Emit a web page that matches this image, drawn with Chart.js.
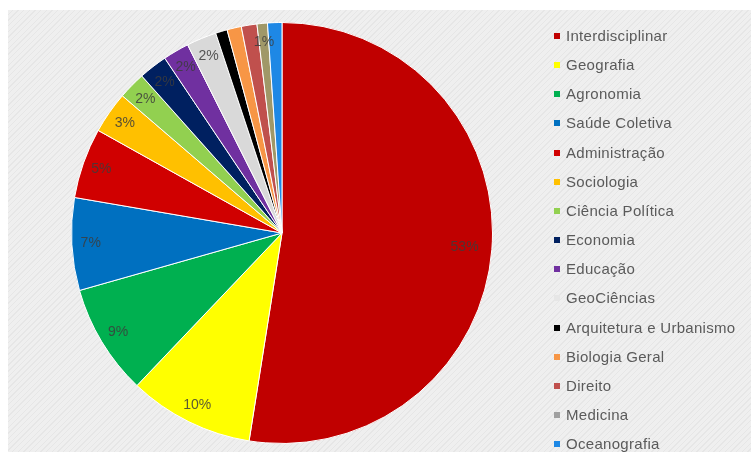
<!DOCTYPE html>
<html>
<head>
<meta charset="utf-8">
<script src="https://cdn.jsdelivr.net/npm/chart.js@4/dist/chart.umd.min.js"></script>
<style>
  html, body { margin: 0; padding: 0; background: #fff; }
  #wrap { position: relative; width: 751px; height: 452px; overflow: hidden; }
  #panel {
    position: absolute; left: 8px; top: 10px; width: 743px; height: 442px;
    background: repeating-linear-gradient(135deg, #efefef 0px, #efefef 3px, #e6e6e6 3px, #e6e6e6 4px);
  }
  #chart { position: absolute; left: 0; top: 0; }
  #legend { position: absolute; left: 554px; top: 0; font: 15px "Liberation Sans", Arial, sans-serif; letter-spacing: 0.3px; color: #5a5a5a; }
  .item { position: absolute; left: 0; white-space: nowrap; line-height: 16px; }
  .box { display: inline-block; width: 6px; height: 6px; margin-right: 6px; vertical-align: 2px; }
</style>
</head>
<body>
<div id="wrap">
  <div id="panel"></div>
  <canvas id="chart" width="751" height="452"></canvas>
  <div id="legend"></div>
</div>
<script>
const areas = ['Interdisciplinar', 'Geografia', 'Agronomia', 'Saúde Coletiva', 'Administração',
  'Sociologia', 'Ciência Política', 'Economia', 'Educação', 'GeoCiências',
  'Arquitetura e Urbanismo', 'Biologia Geral', 'Direito', 'Medicina', 'Oceanografia'];
const shares = [52.5, 9.6, 8.5, 7.1, 5.4, 3.2, 2.1, 2.2, 2.0, 2.3, 0.9, 1.1, 1.2, 0.8, 1.1];
const shareLabels = ['53%', '10%', '9%', '7%', '5%', '3%', '2%', '2%', '2%', '2%', '', '', '', '1%', ''];
const sliceColors = ['#c00000', '#ffff00', '#00b050', '#0070c0', '#d00000',
  '#ffc000', '#92d050', '#002060', '#7030a0', '#d9d9d9',
  '#000000', '#f79646', '#c0504d', '#a09868', '#1e88e5'];
const legendColors = ['#c00000', '#ffff00', '#00b050', '#0070c0', '#d00000',
  '#ffc000', '#92d050', '#002060', '#7030a0', '#e6e6e6',
  '#000000', '#f79646', '#c0504d', '#a0a0a0', '#1e88e5'];

// percent labels inside the slices, near the rim
const sliceLabelsPlugin = {
  id: 'sliceLabels',
  afterDatasetsDraw(chart) {
    const { ctx } = chart;
    const meta = chart.getDatasetMeta(0);
    ctx.save();
    ctx.font = '14px "Liberation Sans", Arial, sans-serif';
    ctx.fillStyle = 'rgba(60,60,60,0.85)';
    ctx.textAlign = 'center';
    ctx.textBaseline = 'middle';
    meta.data.forEach((arc, i) => {
      const text = shareLabels[i];
      if (!text) return;
      const p = arc.getProps(['startAngle', 'endAngle', 'outerRadius', 'x', 'y'], true);
      const a = (p.startAngle + p.endAngle) / 2;
      const r = p.outerRadius * (i === 0 ? 0.87 : 0.91);
      ctx.fillText(text, p.x + Math.cos(a) * r, p.y + Math.sin(a) * r);
    });
    ctx.restore();
  }
};

new Chart(document.getElementById('chart'), {
  type: 'pie',
  plugins: [sliceLabelsPlugin],
  data: {
    labels: areas,
    datasets: [{
      data: shares,
      backgroundColor: sliceColors,
      borderColor: '#ffffff',
      borderWidth: 1,
    }],
  },
  options: {
    responsive: false,
    animation: false,
    layout: { padding: { left: 71, right: 258, top: 22, bottom: 8 } },
    plugins: {
      legend: { display: false },
      tooltip: { enabled: false },
    },
  },
});

const legend = document.getElementById('legend');
areas.forEach((name, i) => {
  const el = document.createElement('div');
  el.className = 'item';
  el.style.top = (28 + i * 29.15) + 'px';
  el.innerHTML = `<span class="box" style="background:${legendColors[i]}"></span>${name}`;
  legend.appendChild(el);
});
</script>
</body>
</html>
